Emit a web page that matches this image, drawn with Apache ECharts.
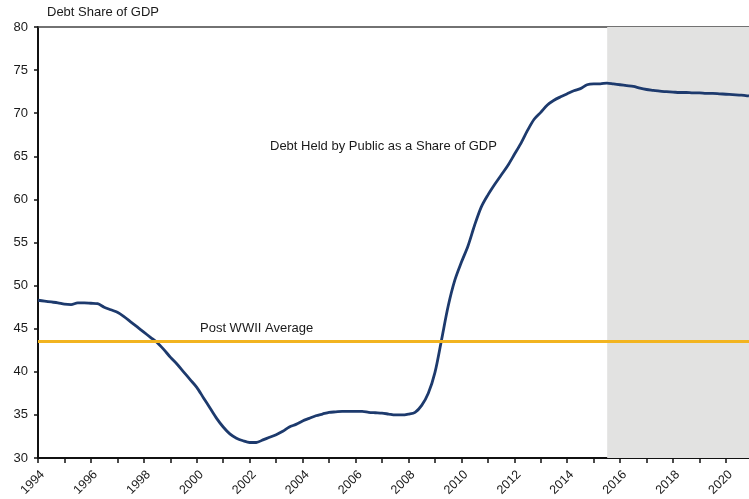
<!DOCTYPE html>
<html>
<head>
<meta charset="utf-8">
<script src="https://cdn.jsdelivr.net/npm/echarts@6/dist/echarts.min.js"></script>
<style>
  html, body { margin: 0; padding: 0; background: #fff; }
  #chart { width: 749px; height: 499px; }
</style>
</head>
<body>
<div id="chart"></div>
<script>
// Quarterly observations (year fraction) and debt held by the public, % of GDP
const quarters = [
  1994.00, 1994.25, 1994.50, 1994.75, 1995.00, 1995.25, 1995.50, 1995.75,
  1996.00, 1996.25, 1996.50, 1996.75, 1997.00, 1997.25, 1997.50, 1997.75,
  1998.00, 1998.25, 1998.50, 1998.75, 1999.00, 1999.25, 1999.50, 1999.75,
  2000.00, 2000.25, 2000.50, 2000.75, 2001.00, 2001.25, 2001.50, 2001.75,
  2002.00, 2002.25, 2002.50, 2002.75, 2003.00, 2003.25, 2003.50, 2003.75,
  2004.00, 2004.25, 2004.50, 2004.75, 2005.00, 2005.25, 2005.50, 2005.75,
  2006.00, 2006.25, 2006.50, 2006.75, 2007.00, 2007.25, 2007.50, 2007.75,
  2008.00, 2008.25, 2008.50, 2008.75, 2009.00, 2009.25, 2009.50, 2009.75,
  2010.00, 2010.25, 2010.50, 2010.75, 2011.00, 2011.25, 2011.50, 2011.75,
  2012.00, 2012.25, 2012.50, 2012.75, 2013.00, 2013.25, 2013.50, 2013.75,
  2014.00, 2014.25, 2014.50, 2014.75, 2015.00, 2015.25, 2015.50, 2015.75,
  2016.00, 2016.25, 2016.50, 2016.75, 2017.00, 2017.25, 2017.50, 2017.75,
  2018.00, 2018.25, 2018.50, 2018.75, 2019.00, 2019.25, 2019.50, 2019.75,
  2020.00, 2020.25, 2020.50, 2020.75, 2020.87
];
const debtShare = [
  48.3, 48.2, 48.1, 48.0, 47.85, 47.8, 48.0, 48.0,
  47.95, 47.9, 47.5, 47.2, 46.9, 46.4, 45.8, 45.2,
  44.6, 44.0, 43.4, 42.6, 41.7, 40.9, 40.0, 39.1,
  38.2, 37.0, 35.8, 34.6, 33.6, 32.8, 32.3, 32.0,
  31.8, 31.8, 32.1, 32.4, 32.7, 33.1, 33.6, 33.9,
  34.3, 34.6, 34.9, 35.1, 35.3, 35.35, 35.4, 35.4,
  35.4, 35.4, 35.3, 35.25, 35.2, 35.1, 35.0, 35.0,
  35.1, 35.3, 36.1, 37.5, 39.9, 43.7, 47.6, 50.6,
  52.7, 54.6, 57.0, 59.1, 60.5, 61.7, 62.8, 63.9,
  65.2, 66.5, 68.0, 69.3, 70.1, 70.95, 71.5, 71.9,
  72.25, 72.6, 72.85, 73.3, 73.4, 73.4, 73.5, 73.4,
  73.3, 73.2, 73.1, 72.9, 72.75, 72.65, 72.55, 72.5,
  72.45, 72.4, 72.4, 72.35, 72.35, 72.3, 72.3, 72.25,
  72.2, 72.15, 72.1, 72.05, 72.0
];
// Post-WWII average level and the start of the projection period
const postWarAverage = 43.6;
const projectionStart = 2015.51;
const xMin = 1994, xMax = 2020.87;
const yMin = 30, yMax = 80, yStep = 5;

const chart = echarts.init(document.getElementById('chart'), null, { renderer: 'canvas' });
const font = 'Liberation Sans, Arial, Helvetica, sans-serif';
const ink = '#1a1a1a';

chart.setOption({
  animation: false,
  backgroundColor: '#ffffff',
  grid: { left: 38, right: 0, top: 27, bottom: 41, containLabel: false },
  xAxis: [{
    type: 'value',
    min: xMin, max: xMax, interval: 1,
    axisLine: { show: true, lineStyle: { color: '#111', width: 2 } },
    axisTick: { show: true, length: 5, lineStyle: { color: '#111', width: 1.5 } },
    splitLine: { show: false },
    axisLabel: {
      rotate: 45, margin: 10, verticalAlign: 'top',
      color: ink, fontFamily: font, fontSize: 12.5,
      showMaxLabel: false,
      formatter: function (v) {
        return (Number.isInteger(v) && v % 2 === 0) ? String(v) : '';
      }
    }
  }, {
    type: 'value', position: 'top',
    min: xMin, max: xMax,
    axisLine: { show: true, lineStyle: { color: '#444', width: 1.5 } },
    axisTick: { show: false }, axisLabel: { show: false }, splitLine: { show: false }
  }],
  yAxis: {
    type: 'value',
    min: yMin, max: yMax, interval: yStep,
    axisLine: { show: true, lineStyle: { color: '#111', width: 2 } },
    axisTick: { show: true, length: 4, lineStyle: { color: '#111', width: 1.5 } },
    splitLine: { show: false },
    axisLabel: { color: ink, fontFamily: font, fontSize: 13, margin: 10 }
  },
  graphic: [
    { type: 'text', left: 47, top: 6,
      style: { text: 'Debt Share of GDP', fill: ink, font: '13px ' + font } },
    { type: 'text', left: 270, top: 140,
      style: { text: 'Debt Held by Public as a Share of GDP', fill: ink, font: '13px ' + font } },
    { type: 'text', left: 200, top: 322,
      style: { text: 'Post WWII Average', fill: ink, font: '13px ' + font } }
  ],
  series: [{
    type: 'line',
    data: quarters.map((q, i) => [q, debtShare[i]]),
    showSymbol: false,
    smooth: 0.3,
    lineStyle: { color: '#1d3a6d', width: 2.8 },
    z: 3,
    markArea: {
      silent: true,
      itemStyle: { color: '#e2e2e1' },
      data: [[{ xAxis: projectionStart }, { xAxis: xMax }]]
    },
    markLine: {
      silent: true,
      symbol: ['none', 'none'],
      label: { show: false },
      lineStyle: { color: '#f2b420', width: 3, type: 'solid' },
      data: [{ yAxis: postWarAverage }]
    }
  }]
});
</script>
</body>
</html>
